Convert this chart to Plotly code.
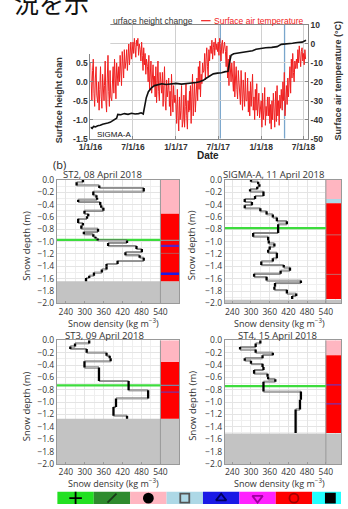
import plotly.graph_objects as go
import pandas as pd

W, H = 348, 509


def px(x):
    return x / W


def py(y):
    return 1 - y / H


# ---------------- (a) time series ----------------
date_ticks = ['2016-01-01', '2016-07-01', '2017-01-01', '2017-07-01', '2018-01-01', '2018-07-01']
date_labels = ['1/1/16', '7/1/16', '1/1/17', '7/1/17', '1/1/18', '7/1/18']
profile_dates = ['2017-07-10', '2018-04-11']

height_dates = ['2016-01-01', '2016-01-08', '2016-01-14', '2016-01-22', '2016-02-01', '2016-02-12',
                '2016-02-22', '2016-03-05', '2016-03-15', '2016-03-25', '2016-04-05', '2016-04-15',
                '2016-04-22', '2016-04-27', '2016-05-10', '2016-05-25', '2016-06-10', '2016-06-25',
                '2016-07-10', '2016-07-25', '2016-08-05', '2016-08-14', '2016-08-20', '2016-08-27',
                '2016-09-05', '2016-09-18', '2016-10-01', '2016-10-15', '2016-11-01', '2016-11-20',
                '2016-12-10', '2017-01-01', '2017-01-25', '2017-02-15', '2017-03-10', '2017-03-28',
                '2017-04-12', '2017-04-28', '2017-05-12', '2017-05-25', '2017-06-10', '2017-06-28',
                '2017-07-15', '2017-08-01', '2017-08-12', '2017-08-18', '2017-08-25', '2017-09-05',
                '2017-09-25', '2017-10-15', '2017-11-05', '2017-11-25', '2017-12-10', '2017-12-28',
                '2018-01-20', '2018-02-15', '2018-03-10', '2018-03-28', '2018-04-20', '2018-05-15',
                '2018-06-05', '2018-06-25', '2018-07-12']
height_values = [-1.20, -1.23, -1.18, -1.19, -1.16, -1.15,
                 -1.12, -1.11, -1.09, -1.07, -1.03, -0.99,
                 -0.96, -0.86, -0.87, -0.84, -0.86, -0.83,
                 -0.85, -0.84, -0.82, -0.85, -0.62, -0.42,
                 -0.26, -0.16, -0.10, -0.07, -0.05, -0.07,
                 -0.05, -0.04, -0.06, -0.05, -0.04, -0.02,
                 0.00, 0.04, 0.10, 0.16, 0.21, 0.23,
                 0.24, 0.27, 0.28, 0.50, 0.70, 0.74,
                 0.76, 0.78, 0.80, 0.82, 0.86, 0.88,
                 0.90, 0.91, 0.93, 0.99, 1.00, 1.02,
                 1.04, 1.05, 1.10]

temp_sample_days = [1, 4, 7, 10, 13, 16, 19, 22, 25, 28]
temp_values = [
    -10, -22, -30, -14, -8, -26, -33, -18, -12, -27,   # 2016-01
    -31, -20, -35, -24, -12, -28, -34, -16, -25, -30,  # 2016-02
    -22, -9, -30, -36, -18, -6, -25, -33, -14, -28,    # 2016-03
    -30, -20, -12, -26, -8, -18, -29, -10, -15, -22,   # 2016-04
    -12, -20, -6, -16, -22, -4, -10, -18, -3, -13,     # 2016-05
    -9, -3, -14, -6, 0, -11, -4, 1, -8, -2,            # 2016-06
    1, -5, 3, -2, -7, 2, -1, 3, -6, 0,                 # 2016-07
    -3, -9, 1, -6, -14, -2, -11, -5, -16, -8,          # 2016-08
    -12, -20, -6, -24, -15, -9, -26, -18, -11, -22,    # 2016-09
    -17, -28, -12, -31, -20, -9, -25, -30, -15, -22,   # 2016-10
    -26, -15, -33, -22, -12, -30, -35, -19, -28, -24,  # 2016-11
    -18, -33, -25, -38, -16, -29, -36, -22, -31, -27,  # 2016-12
    -32, -42, -24, -38, -46, -28, -40, -35, -22, -44,  # 2017-01
    -40, -27, -44, -33, -21, -38, -45, -30, -36, -25,  # 2017-02
    -35, -22, -42, -28, -16, -38, -30, -20, -36, -26,  # 2017-03
    -18, -30, -12, -24, -9, -28, -16, -21, -10, -15,   # 2017-04
    -14, -5, -19, -8, -2, -12, -17, -3, -9, -1,        # 2017-05
    -5, 2, -8, -2, 1, -6, 3, -3, 0, -4,                # 2017-06
    1, -6, 3, -3, -9, 0, 2, -5, -2, 1,                 # 2017-07
    -4, -12, -1, -18, -8, -22, -6, -14, -20, -10,      # 2017-08
    -16, -25, -9, -28, -18, -12, -24, -29, -14, -21,   # 2017-09
    -22, -32, -14, -28, -35, -19, -26, -33, -15, -30,  # 2017-10
    -30, -18, -36, -25, -38, -20, -33, -27, -16, -35,  # 2017-11
    -28, -40, -24, -35, -21, -38, -30, -26, -39, -32,  # 2017-12
    -30, -44, -26, -40, -35, -23, -43, -33, -38, -28,  # 2018-01
    -38, -28, -42, -32, -45, -30, -40, -26, -36, -44,  # 2018-02
    -36, -25, -41, -22, -38, -30, -43, -27, -34, -24,  # 2018-03
    -35, -20, -30, -15, -38, -26, -22, -32, -18, -28,  # 2018-04
    -22, -12, -26, -8, -18, -5, -15, -20, -9, -13,     # 2018-05
    -8, -13, -3, -10, -1, -7, -12, -4, -2, -9,         # 2018-06
    -5, -11, -3, -8,                                   # 2018-07
]
temp_months = pd.period_range('2016-01', '2018-07', freq='M').strftime('%Y-%m')
temp_dates = [f'{m}-{d:02d}' for m in temp_months for d in temp_sample_days][:len(temp_values)]

# ---------------- (b) snow pits ----------------
density_ticks = [240, 300, 360, 420, 480, 540]
depth_ticks = [0.0, -0.2, -0.4, -0.6, -0.8, -1.0, -1.2, -1.4, -1.6, -1.8, -2.0]

st2_bounds = [0.0, -0.04, -0.09, -0.13, -0.19, -0.25, -0.29, -0.32, -0.36, -0.41, -0.45, -0.50,
              -0.55, -0.59, -0.63, -0.70, -0.74, -0.79, -0.84, -0.88, -0.92, -0.95, -0.98, -1.02,
              -1.07, -1.12, -1.17, -1.22, -1.26, -1.31, -1.36, -1.40, -1.45, -1.50, -1.55, -1.59, -1.64]
st2_density = [294, 274, 346, 487, 327, 337, 339, 279, 349, 352, 359, 299,
               311, 307, 279, 294, 289, 342, 297, 327, 334, 341, 434, 374,
               464, 481, 429, 474, 487, 404, 369, 369, 354, 329, 314, 304]

sig_bounds = [0.0, -0.03, -0.07, -0.11, -0.15, -0.19, -0.26, -0.31, -0.36, -0.41, -0.46, -0.51,
              -0.56, -0.61, -0.67, -0.72, -0.78, -0.86, -0.92, -0.98, -1.03, -1.08, -1.13, -1.18,
              -1.27, -1.32, -1.38, -1.42, -1.47, -1.52, -1.57, -1.63, -1.67, -1.73, -1.78, -1.84,
              -1.88, -1.93]
sig_density = [300, 323, 327, 320, 297, 340, 313, 280, 303, 280, 330, 350,
               370, 383, 415, 387, 387, 307, 355, 357, 375, 360, 355, 383,
               370, 333, 405, 425, 395, 310, 350, 460, 377, 375, 415, 445, 432]

st3_bounds = [0.0, -0.05, -0.10, -0.14, -0.20, -0.25, -0.29, -0.34, -0.44, -0.66, -0.81, -0.94,
              -1.08, -1.22, -1.27]
st3_density = [314, 269, 254, 306, 369, 379, 382, 299, 345, 439, 501, 399, 391, 434]

st4_bounds = [0.0, -0.05, -0.11, -0.15, -0.20, -0.24, -0.29, -0.33, -0.38, -0.43, -0.48, -0.54,
              -0.59, -0.63, -0.67, -0.83, -0.96, -1.12, -1.50]
st4_density = [330, 315, 265, 315, 370, 337, 280, 300, 337, 340, 310, 353, 355, 378, 340, 460, 457, 443]

# stratigraphy layers: (top, bottom, colour) and thin boundary lines (depth, colour, width)
st2_layers = [(0.0, -0.55, '#ffb6c1'), (-0.55, -1.64, '#ff0000')]
st2_lines = [(-0.98, '#909090', 1.2), (-1.07, '#5a20c0', 2.2), (-1.19, '#c05050', 1.0), (-1.52, '#1a1ae6', 2.5)]
sig_layers = [(0.0, -0.31, '#ffb6c1'), (-0.31, -0.38, '#add8e6'), (-0.38, -1.93, '#ff0000')]
sig_lines = [(-0.89, '#c86464', 1.0), (-1.53, '#c86464', 1.0)]
st3_layers = [(0.0, -0.35, '#ffb6c1'), (-0.35, -1.27, '#ff0000')]
st3_lines = [(-0.73, '#8080a0', 1.2), (-0.84, '#7a30a0', 1.2)]
st4_layers = [(0.0, -0.24, '#ffb6c1'), (-0.24, -1.50, '#ff0000')]
st4_lines = [(-0.72, '#7a30b0', 1.3), (-1.03, '#7a30b0', 1.3)]

panels = [
    dict(n=3, title='ST2, 08 April 2018', bounds=st2_bounds, dens=st2_density, layers=st2_layers,
         lines=st2_lines, green=-0.97, bottom=-1.64, xd=(47.5, 177), yd=(177.7, 304), xr=(211.5, 600),
         tx=96, ylab_x=15),
    dict(n=4, title='SIGMA-A, 11 April 2018', bounds=sig_bounds, dens=sig_density, layers=sig_layers,
         lines=sig_lines, green=-0.78, bottom=-1.94, xd=(225, 348), yd=(177.7, 304), xr=(215.8, 588.5),
         tx=277, ylab_x=190),
    dict(n=5, title='ST3, 09 April 2018', bounds=st3_bounds, dens=st3_density, layers=st3_layers,
         lines=st3_lines, green=-0.73, bottom=-1.27, xd=(47.5, 177), yd=(341.7, 468), xr=(211.5, 600),
         tx=98, ylab_x=15),
    dict(n=6, title='ST4, 15 April 2018', bounds=st4_bounds, dens=st4_density, layers=st4_layers,
         lines=st4_lines, green=-0.74, bottom=-1.51, xd=(225, 348), yd=(341.7, 468), xr=(215.8, 588.5),
         tx=281, ylab_x=190),
]

legend_colors = ['#22e022', '#2e8b2e', '#ffb6c1', '#add8e6', '#1a1ae6', '#ff22ff', '#ff0000', '#22ffff']
legend_symbols = ['cross-thin', 'line-ne', 'circle', 'square-open', 'triangle-up-open',
                  'triangle-down-open', 'circle-open', 'square']
legend_sym_colors = ['#000000', '#1a3a1a', '#000000', '#555555', '#000060', '#a000a0', '#a00000', '#000000']

FONT = 'Open Sans'
TICKFONT = dict(family='Liberation Sans', size=8.5, color='#333', weight='bold')
fig = go.Figure()
shapes = []
annotations = []

# ---- top chart traces ----
fig.add_trace(go.Scatter(x=temp_dates, y=temp_values, mode='lines', xaxis='x', yaxis='y',
                         line=dict(color='#f02020', width=1), hoverinfo='skip'))
fig.add_trace(go.Scatter(x=height_dates, y=height_values, mode='lines', xaxis='x', yaxis='y2',
                         line=dict(color='#111111', width=1.6), hoverinfo='skip'))

layout = dict(
    width=W, height=H, margin=dict(l=0, r=0, t=0, b=0, pad=0),
    paper_bgcolor='white', plot_bgcolor='rgba(0,0,0,0)', showlegend=False,
    xaxis=dict(domain=[px(83), px(313)], range=['2016-01-01', '2018-07-20'], type='date',
               tickvals=date_ticks, ticktext=date_labels, showgrid=True, gridcolor='#d0d0d0',
               gridwidth=0.8, showline=True, linecolor='#888', mirror=True, ticks='inside',
               ticklen=3, tickcolor='#888', zeroline=False, anchor='y', tickfont=TICKFONT),
    yaxis=dict(domain=[py(135.5), py(19.5)], range=[-50, 10], side='right', anchor='x',
               tickvals=[-50, -40, -30, -20, -10, 0, 10],
               ticktext=['-50', '-40', '-30', '-20', '-10', '0', '10'],
               showgrid=True, gridcolor='#d0d0d0', gridwidth=0.8, zeroline=False,
               showline=True, linecolor='#888', ticks='inside', ticklen=3, tickcolor='#888',
               tickfont=TICKFONT),
    yaxis2=dict(range=[-1.5, 1.5], side='left', overlaying='y', anchor='x',
                tickvals=[-1.5, -1.0, -0.5, 0.0, 0.5], ticktext=['-1.5', '-1.0', '-0.5', '0.0', '0.5'],
                showgrid=False, zeroline=False, showline=True, linecolor='#888',
                ticks='inside', ticklen=3, tickcolor='#888', tickfont=TICKFONT),
)

for d in profile_dates:
    shapes.append(dict(type='line', xref='x', yref='paper', x0=d, x1=d, y0=py(135.5), y1=py(19.5),
                       line=dict(color='#7aa6cc', width=1.3), layer='below'))


def add_line(xs, ys, xa, ya, color, width, fill=None):
    fig.add_trace(go.Scatter(x=xs, y=ys, mode='lines', xaxis=xa, yaxis=ya, hoverinfo='skip',
                             line=dict(color=color, width=width), fill=fill,
                             fillcolor=color if fill else None))


# ---- profile panels ----
for p in panels:
    n = p['n']
    xa, ya = f'x{n}', f'y{n}'
    b, dens = p['bounds'], p['dens']
    x_lo, x_hi = p['xr']

    # gray area below the snow, then stratigraphy strip (drawn as filled traces above gridlines)
    add_line([x_lo, x_hi, x_hi, x_lo, x_lo], [-2.0, -2.0, p['bottom'], p['bottom'], -2.0],
             xa, ya, '#c3c3c3', 0, fill='toself')
    for top, bot, col in p['layers']:
        add_line([540, 600, 600, 540, 540], [top, top, bot, bot, top], xa, ya, col, 0, fill='toself')
    for dep, col, wd in p['lines']:
        add_line([540, 600], [dep, dep], xa, ya, col, wd)
    add_line([540, 540], [-2.0, 0.0], xa, ya, '#999999', 1)
    add_line([x_lo, 540], [p['green'], p['green']], xa, ya, '#3ddc3d', 2.2)

    cx, cy, bx, by = [], [], [], []
    for i in range(len(dens)):
        bx += [dens[i], dens[i], None]
        by += [b[i], b[i + 1], None]
        if i < len(dens) - 1:
            cx += [dens[i], dens[i + 1], None]
            cy += [b[i + 1], b[i + 1], None]
    add_line(cx, cy, xa, ya, '#555555', 1.8)
    add_line(cx, cy, xa, ya, '#f2f2f2', 0.6)
    add_line(bx, by, xa, ya, '#000000', 2.3)

    layout[f'xaxis{n}'] = dict(
        domain=[px(p['xd'][0]), min(1.0, px(p['xd'][1]))], range=list(p['xr']), anchor=ya,
        tickvals=density_ticks, ticktext=[str(v) for v in density_ticks],
        showgrid=True, gridcolor='#e4e4e4', gridwidth=0.7,
        minor=dict(tick0=240, dtick=30, showgrid=True, gridcolor='#efefef', gridwidth=0.6),
        showline=True, linecolor='#999', mirror=True, ticks='inside', ticklen=2, tickcolor='#999',
        zeroline=False, tickfont=dict(family=FONT, size=8.5, color='#333'))
    layout[f'yaxis{n}'] = dict(
        domain=[py(p['yd'][1]), py(p['yd'][0])], range=[-2.0, 0.0], anchor=xa,
        tickvals=depth_ticks, tickformat='.1f',
        showgrid=True, gridcolor='#e4e4e4', gridwidth=0.7,
        minor=dict(dtick=0.1, showgrid=True, gridcolor='#efefef', gridwidth=0.6),
        showline=True, linecolor='#999', mirror=True, ticks='', zeroline=False,
        tickfont=dict(family=FONT, size=8.5, color='#333'))

    annotations.append(dict(text=p['title'], xref='paper', yref='paper', x=px(p['tx']),
                            y=py(p['yd'][0] - 5), showarrow=False, xanchor='center', yanchor='middle',
                            font=dict(family=FONT, size=9.5, color='#333')))
    annotations.append(dict(text='Snow density (kg m<sup>−3</sup>)', xref='paper', yref='paper',
                            x=px(p['xd'][0] + 60 if n in (3, 5) else p['xd'][0] + 58),
                            y=py(p['yd'][1] + 19.5), showarrow=False, xanchor='center', yanchor='middle',
                            font=dict(family=FONT, size=9, color='#333')))
    annotations.append(dict(text='Snow depth (m)', xref='paper', yref='paper', x=px(p['ylab_x']),
                            y=py((p['yd'][0] + p['yd'][1]) / 2 + 4), showarrow=False, textangle=-90,
                            xanchor='center', yanchor='middle',
                            font=dict(family=FONT, size=9.5, color='#333')))

# ---- legend bar at bottom ----
layout['xaxis7'] = dict(domain=[0, 1], range=[0, W], visible=False, anchor='y7', fixedrange=True)
layout['yaxis7'] = dict(domain=[0, 1], range=[H, 0], visible=False, anchor='x7', fixedrange=True)
block_w = 38.5
for i, col in enumerate(legend_colors):
    x0 = 48 + i * block_w
    shapes.append(dict(type='rect', xref='paper', yref='paper', x0=px(x0), x1=min(1.0, px(x0 + block_w)),
                       y0=0, y1=py(496.5), fillcolor=col, line=dict(width=0), layer='below'))
fig.add_trace(go.Scatter(
    x=[48 + (i + 0.5) * block_w for i in range(len(legend_symbols))], y=[503] * len(legend_symbols),
    mode='markers', xaxis='x7', yaxis='y7', hoverinfo='skip',
    marker=dict(symbol=legend_symbols, size=9, color=legend_sym_colors,
                line=dict(color=legend_sym_colors, width=1.8))))

# ---- top chart texts ----
shapes.append(dict(type='rect', xref='paper', yref='paper', x0=0, x1=px(104), y0=py(49), y1=1,
                   fillcolor='white', line=dict(width=0), layer='above'))
shapes.append(dict(type='line', xref='paper', yref='paper', x0=px(200), x1=px(210), y0=py(15), y1=py(15),
                   line=dict(color='#f02020', width=1.2), layer='above'))
annotations += [
    dict(text='況を示', xref='paper', yref='paper', x=0, y=py(-4), xanchor='left', yanchor='middle',
         showarrow=False, font=dict(family='Noto Sans CJK JP', size=25, color='#111')),
    dict(text='urface height change', xref='paper', yref='paper', x=px(105), y=py(15), xanchor='left',
         yanchor='middle', showarrow=False, font=dict(family='Liberation Sans', size=8.5, color='#333')),
    dict(text='Surface air temperature', xref='paper', yref='paper', x=px(212), y=py(15), xanchor='left',
         yanchor='middle', showarrow=False, font=dict(family='Liberation Sans', size=8.5, color='#f02020')),
    dict(text='SIGMA-A', xref='paper', yref='paper', x=px(88), y=py(131), xanchor='left',
         yanchor='middle', showarrow=False, font=dict(family='Liberation Sans', size=8, color='#111')),
    dict(text='Surface height chan', xref='paper', yref='paper', x=px(50), y=py(50), xanchor='center',
         yanchor='top', textangle=-90, showarrow=False,
         font=dict(family='Liberation Sans', size=9, color='#333', weight='bold')),
    dict(text='Surface air temperature (°C)', xref='paper', yref='paper', x=px(345), y=py(76),
         xanchor='center', yanchor='middle', textangle=-90, showarrow=False,
         font=dict(family='Liberation Sans', size=9, color='#333', weight='bold')),
    dict(text='Date', xref='paper', yref='paper', x=px(207), y=py(153), xanchor='center',
         yanchor='middle', showarrow=False,
         font=dict(family='Liberation Sans', size=10, color='#222', weight='bold')),
    dict(text='(b)', xref='paper', yref='paper', x=px(50), y=py(162), xanchor='center',
         yanchor='middle', showarrow=False, font=dict(family=FONT, size=11, color='#222')),
]

layout['shapes'] = shapes
layout['annotations'] = annotations
fig.update_layout(**layout)
fig.write_html('out.html')
